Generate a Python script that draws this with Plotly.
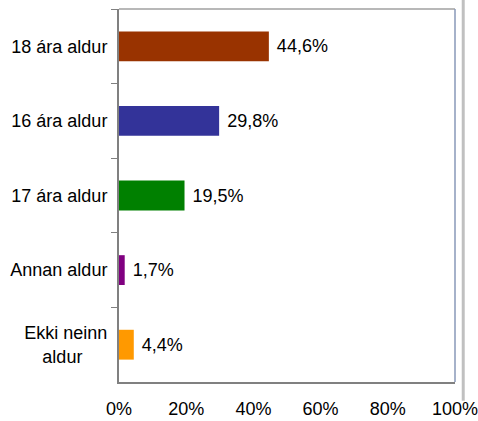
import plotly.graph_objects as go

categories = ["18 ára aldur", "16 ára aldur", "17 ára aldur", "Annan aldur", "Ekki neinn<br>aldur" + "\u00a0" * 5]
values = [44.6, 29.8, 19.5, 1.7, 4.4]
colors = ["#993300", "#333399", "#008000", "#800080", "#FF9900"]
x_ticks = [0, 20, 40, 60, 80, 100]
x_ticktext = [f"{t}%" for t in x_ticks]

FONT = "Liberation Sans Narrow, Arial Narrow, Liberation Sans, Arial, sans-serif"
labels = ["\u00a0" + f"{v:.1f}".replace(".", ",") + "%" for v in values]

fig = go.Figure(go.Bar(
    x=values, y=categories, orientation="h",
    marker=dict(color=colors, line=dict(width=0)),
    text=labels, textposition="outside", cliponaxis=False,
    textfont=dict(family=FONT, size=18, color="#000000"),
    width=0.4,
))

fig.update_layout(
    width=478, height=421,
    margin=dict(l=119, r=23, t=9, b=39, pad=0),
    paper_bgcolor="white", plot_bgcolor="white",
    showlegend=False,
    font=dict(family=FONT, size=18, color="#000000"),
    xaxis=dict(range=[0, 100], tickmode="array", tickvals=x_ticks, ticktext=x_ticktext,
               showgrid=False, zeroline=False, showline=True, automargin=False,
               linecolor="#808080", linewidth=1.5, ticks="",
               ticklabeloverflow="allow",
               ticklabelstandoff=10, tickfont=dict(size=18)),
    yaxis=dict(autorange="reversed", showgrid=False, zeroline=False, automargin=False,
               showline=True, linecolor="#808080", linewidth=2,
               ticks="outside", ticklen=6, tickcolor="#808080", tickwidth=1,
               tickson="boundaries", ticklabelstandoff=6,
               tickfont=dict(size=18)),
    shapes=[
        dict(type="line", xref="paper", yref="paper", x0=0, x1=1, y0=1, y1=1,
             line=dict(color="#a0a0a0", width=1.5)),
        dict(type="line", xref="paper", yref="paper", x0=1, x1=1, y0=0, y1=1,
             line=dict(color="#8898b8", width=1.5)),
        dict(type="line", xref="paper", yref="paper", x0=1.0245, x1=1.0245, y0=-0.05, y1=1.03,
             line=dict(color="#c0c0c0", width=3)),
    ],
)

fig.write_html("out.html", config={"displayModeBar": False},
               post_script="document.body.style.margin='0';document.body.style.overflow='hidden';")
